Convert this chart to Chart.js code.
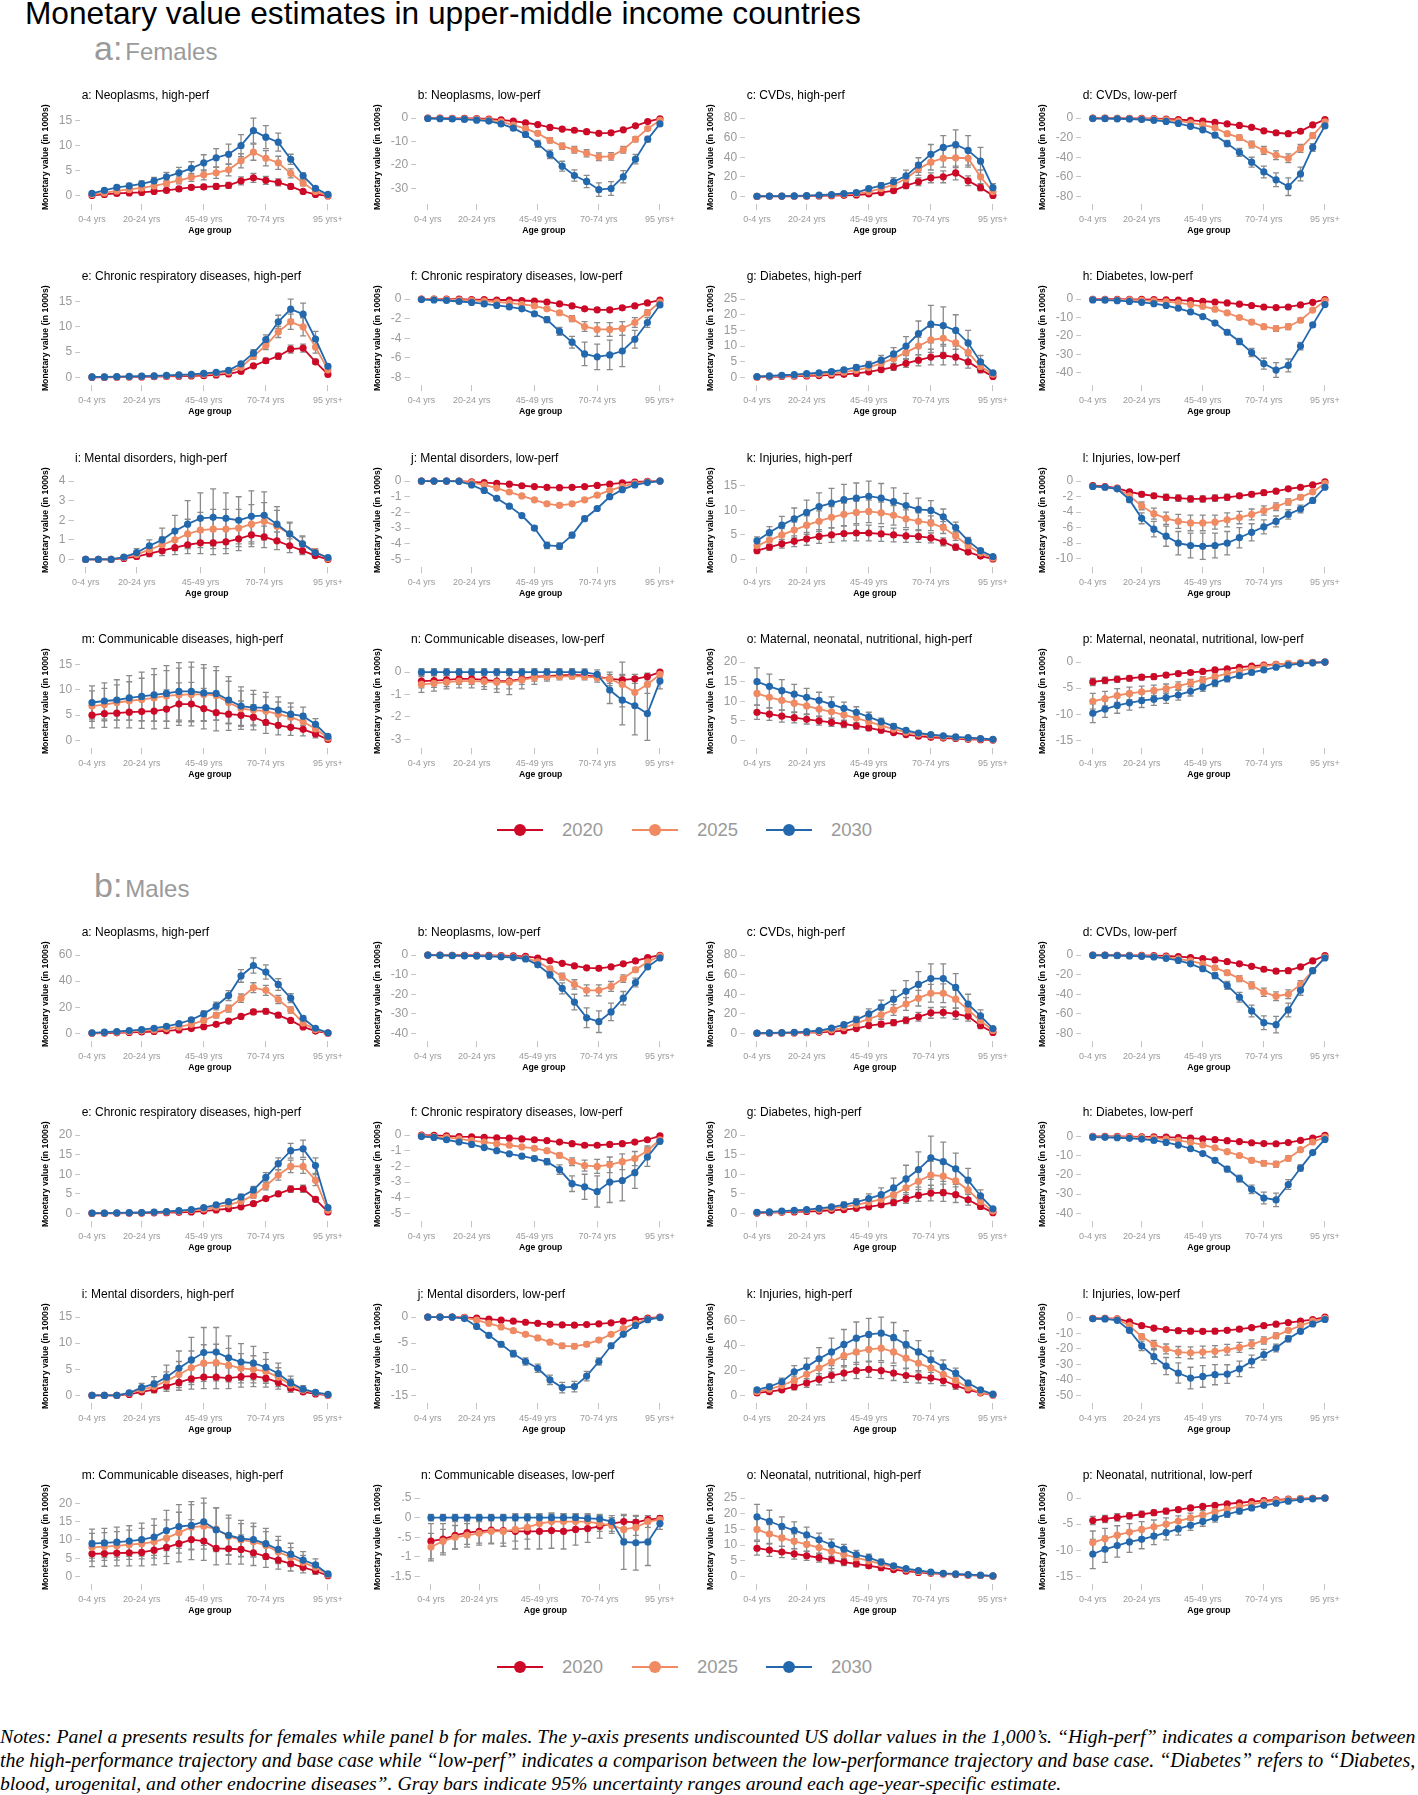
<!DOCTYPE html>
<html>
<head>
<meta charset="utf-8">
<script src="https://cdn.jsdelivr.net/npm/chart.js@4.4.1/dist/chart.umd.min.js"></script>
<style>
  html, body { margin: 0; padding: 0; background: #fff; }
  body { width: 1418px; height: 1795px; position: relative; overflow: hidden; font-family: 'Liberation Sans', Arial, sans-serif; }
  .abs { position: absolute; white-space: nowrap; }
  .ptitle { font-size: 12px; line-height: 14px; color: #000; }
  .section { color: #9a9a9a; display: flex; align-items: baseline; line-height: 1; }
  .legend-line { position: absolute; height: 2px; width: 46px; }
  .legend-dot { position: absolute; width: 12px; height: 12px; border-radius: 50%; }
  .legend-text { position: absolute; font-size: 18.5px; line-height: 20px; color: #9a9a9a; }
  .note { font-family: 'Liberation Serif', 'Times New Roman', serif; font-style: italic; font-size: 20px; line-height: 24px; color: #000; left: 0; }
</style>
</head>
<body>
<div id="title" class="abs" style="left:25px;top:-2px;font-size:32px;line-height:1;color:#000;">Monetary value estimates in upper-middle income countries</div>
<div class="abs section" style="left:94px;top:31px;"><span style="font-size:34px;">a:</span><span style="font-size:24px;margin-left:3px;">Females</span></div>
<div class="abs section" style="left:94px;top:868px;"><span style="font-size:34px;">b:</span><span style="font-size:24px;margin-left:3px;">Males</span></div>
<script>
const ageGroups = ['0-4 yrs','5-9 yrs','10-14 yrs','15-19 yrs','20-24 yrs','25-29 yrs','30-34 yrs','35-39 yrs','40-44 yrs','45-49 yrs',
  '50-54 yrs','55-59 yrs','60-64 yrs','65-69 yrs','70-74 yrs','75-79 yrs','80-84 yrs','85-89 yrs','90-94 yrs','95 yrs+'];
const shownAgeTicks = [0, 4, 9, 14, 19];
const years = ['2020', '2025', '2030'];
const colors = ['#cc0a28', '#ef8a62', '#2368ad'];

const femaleTitles = ['a: Neoplasms, high-perf','b: Neoplasms, low-perf','c: CVDs, high-perf','d: CVDs, low-perf',
  'e: Chronic respiratory diseases, high-perf','f: Chronic respiratory diseases, low-perf','g: Diabetes, high-perf','h: Diabetes, low-perf',
  'i: Mental disorders, high-perf','j: Mental disorders, low-perf','k: Injuries, high-perf','l: Injuries, low-perf',
  'm: Communicable diseases, high-perf','n: Communicable diseases, low-perf','o: Maternal, neonatal, nutritional, high-perf','p: Maternal, neonatal, nutritional, low-perf'];
const maleTitles = ['a: Neoplasms, high-perf','b: Neoplasms, low-perf','c: CVDs, high-perf','d: CVDs, low-perf',
  'e: Chronic respiratory diseases, high-perf','f: Chronic respiratory diseases, low-perf','g: Diabetes, high-perf','h: Diabetes, low-perf',
  'i: Mental disorders, high-perf','j: Mental disorders, low-perf','k: Injuries, high-perf','l: Injuries, low-perf',
  'm: Communicable diseases, high-perf','n: Communicable diseases, low-perf','o: Neonatal, nutritional, high-perf','p: Neonatal, nutritional, low-perf'];

const femaleTicks = [[0,5,10,15],[0,-10,-20,-30],[0,20,40,60,80],[0,-20,-40,-60,-80],
  [0,5,10,15],[0,-2,-4,-6,-8],[0,5,10,15,20,25],[0,-10,-20,-30,-40],
  [0,1,2,3,4],[0,-1,-2,-3,-4,-5],[0,5,10,15],[0,-2,-4,-6,-8,-10],
  [0,5,10,15],[0,-1,-2,-3],[0,5,10,15,20],[0,-5,-10,-15]];
const maleTicks = [[0,20,40,60],[0,-10,-20,-30,-40],[0,20,40,60,80],[0,-20,-40,-60,-80],
  [0,5,10,15,20],[0,-1,-2,-3,-4,-5],[0,5,10,15,20],[0,-10,-20,-30,-40],
  [0,5,10,15],[0,-5,-10,-15],[0,20,40,60],[0,-10,-20,-30,-40,-50],
  [0,5,10,15,20],[0.5,0,-0.5,-1,-1.5],[0,5,10,15,20,25],[0,-5,-10,-15]];

// ---- Females ----
const fa20 = [0.1,0.3,0.5,0.6,0.7,0.9,1.1,1.4,1.7,1.8,1.9,2.1,3.0,3.6,3.1,2.7,1.9,0.9,0.3,0.0];
const fa25 = [0.3,0.6,1.0,1.3,1.6,2.0,2.5,3.1,3.7,4.2,4.6,5.2,7.0,8.7,7.5,6.6,4.5,2.6,0.9,0.1];
const fa30 = [0.5,1.1,1.7,2.0,2.4,3.0,3.8,4.6,5.5,6.6,7.6,8.3,10.0,13.0,11.7,10.7,7.3,4.0,1.5,0.3];
const fa20e = [0.1,0.1,0.2,0.2,0.2,0.3,0.3,0.4,0.4,0.5,0.5,0.6,0.8,0.9,0.8,0.7,0.5,0.3,0.1,0.1];
const fa25e = [0.1,0.2,0.3,0.3,0.4,0.5,0.6,0.7,0.8,1.0,1.1,1.2,1.4,1.6,1.5,1.3,0.9,0.6,0.3,0.1];
const fa30e = [0.2,0.3,0.4,0.5,0.6,0.7,0.9,1.1,1.3,1.6,1.8,2.0,2.2,2.5,2.3,1.8,1.0,0.6,0.3,0.1];

const fb20 = [0,0,-0.1,-0.1,-0.2,-0.4,-0.8,-1.3,-2.0,-2.8,-4.0,-4.7,-5.2,-5.8,-6.5,-6.3,-5.0,-3.3,-1.5,-0.3];
const fb25 = [0,-0.1,-0.2,-0.3,-0.5,-0.8,-1.5,-3.0,-4.5,-6.5,-9.5,-12.0,-13.5,-15.0,-16.5,-16.3,-13.5,-9.0,-4.5,-1.0];
const fb30 = [-0.2,-0.3,-0.4,-0.6,-0.9,-1.3,-2.5,-4.3,-7.0,-11.0,-15.5,-20.5,-24.5,-27.0,-30.5,-30.0,-25.0,-17.5,-9.0,-2.5];
const fb20e = [0,0,0,0,0.1,0.1,0.2,0.3,0.4,0.5,0.6,0.7,0.7,0.8,0.8,0.8,0.7,0.5,0.3,0.1];
const fb25e = [0,0,0.1,0.1,0.1,0.2,0.3,0.5,0.7,0.9,1.1,1.3,1.4,1.5,1.6,1.6,1.4,1.1,0.7,0.2];
const fb30e = [0.1,0.1,0.1,0.2,0.2,0.3,0.5,0.8,1.1,1.5,1.8,2.1,2.4,2.6,2.9,2.9,2.6,2.0,1.2,0.4];

const fc20 = [0,0.1,0.1,0.2,0.3,0.5,0.8,1.2,1.5,2.5,4.0,6.0,11.0,15.0,19.0,20.0,24.0,16.0,9.0,1.0];
const fc25 = [0.1,0.2,0.3,0.4,0.6,1.0,1.5,2.2,3.0,5.0,8.0,12.0,18.0,28.0,35.0,39.0,39.5,39.0,20.0,5.0];
const fc30 = [0.2,0.3,0.4,0.5,0.8,1.3,2.0,3.0,4.0,8.0,11.0,15.0,21.0,32.0,43.0,50.0,53.0,47.0,36.0,9.0];
const fc20e = [0,0,0,0.1,0.1,0.2,0.3,0.4,0.6,0.9,1.3,2,3,4,5,6,7,5,3,0.5];
const fc25e = [0,0.1,0.1,0.2,0.2,0.4,0.6,0.8,1.1,1.7,2.6,3.5,5,6.5,8,9,10,9,7,2];
const fc30e = [0.1,0.1,0.2,0.2,0.3,0.5,0.7,1,1.4,2.3,3.2,4.3,5.8,7.5,10,12,15,15,14,4];

const fd20 = [-0.1,-0.1,-0.2,-0.3,-0.4,-0.6,-1.0,-1.5,-2.3,-3.2,-4.5,-6.0,-7.5,-9.5,-13.0,-15.0,-16.0,-13.5,-7.0,-1.5];
const fd25 = [-0.2,-0.3,-0.4,-0.6,-0.8,-1.2,-1.8,-3.0,-5.0,-7.0,-10.0,-16.0,-20.0,-27.0,-33.0,-38.0,-41.0,-31.0,-18.0,-4.0];
const fd30 = [-0.5,-0.6,-0.8,-1.0,-1.5,-2.3,-3.5,-5.5,-8.5,-12.0,-17.5,-26.0,-35.0,-45.0,-55.0,-63.0,-70.0,-57.0,-30.0,-8.0];
const fd20e = [0,0,0,0.1,0.1,0.1,0.2,0.3,0.4,0.5,0.7,0.9,1.1,1.4,1.8,2,2.2,2,1.2,0.3];
const fd25e = [0.1,0.1,0.1,0.1,0.2,0.2,0.3,0.5,0.8,1.1,1.5,2.2,2.8,3.5,4,4.5,4.5,4,2.8,0.8];
const fd30e = [0.1,0.1,0.2,0.2,0.3,0.4,0.6,0.9,1.3,1.8,2.4,3.2,4,5,6,7,9,7,4,1.5];

const fe20 = [0,0,0.05,0.1,0.1,0.15,0.2,0.25,0.3,0.35,0.5,0.7,1.2,2.3,3.3,4.2,5.6,5.8,3.1,0.6];
const fe25 = [0.1,0.1,0.1,0.15,0.2,0.25,0.3,0.4,0.5,0.6,0.8,1.1,2.0,4.2,6.3,9.0,11.0,10.0,6.0,1.5];
const fe30 = [0.1,0.1,0.15,0.2,0.25,0.3,0.4,0.5,0.6,0.8,1.0,1.4,2.7,4.8,7.5,11.0,13.5,12.5,7.6,2.2];
const fe20e = [0,0,0,0,0,0,0,0.1,0.1,0.1,0.1,0.1,0.2,0.3,0.5,0.6,0.8,0.8,0.5,0.1];
const fe25e = [0,0,0,0,0,0.1,0.1,0.1,0.1,0.1,0.2,0.2,0.3,0.6,0.8,1.1,1.5,1.8,1.2,0.3];
const fe30e = [0,0,0,0,0.1,0.1,0.1,0.1,0.1,0.2,0.2,0.3,0.4,0.7,0.9,1.3,2.0,2.2,1.5,0.4];

const ff20 = [0,0,0,0,-0.05,-0.05,-0.1,-0.1,-0.15,-0.2,-0.3,-0.5,-0.7,-1.0,-1.1,-1.1,-0.9,-0.7,-0.4,-0.1];
const ff25 = [0,0,-0.05,-0.1,-0.15,-0.2,-0.3,-0.4,-0.55,-0.7,-1.0,-1.4,-2.0,-2.8,-3.1,-3.1,-3.0,-2.4,-1.4,-0.3];
const ff30 = [-0.05,-0.1,-0.15,-0.25,-0.35,-0.5,-0.65,-0.8,-1.0,-1.5,-2.1,-3.3,-4.4,-5.6,-5.9,-5.7,-5.3,-4.1,-2.4,-0.6];
const ff20e = [0,0,0,0,0,0,0,0,0,0.05,0.05,0.1,0.1,0.15,0.2,0.2,0.2,0.15,0.1,0.05];
const ff25e = [0,0,0,0,0,0,0.05,0.05,0.1,0.1,0.15,0.2,0.3,0.5,0.7,0.7,0.7,0.5,0.3,0.1];
const ff30e = [0,0,0,0,0.05,0.05,0.1,0.1,0.15,0.2,0.3,0.4,0.6,1.2,1.3,1.5,1.6,0.9,0.5,0.15];

const fg20 = [0.1,0.2,0.3,0.4,0.5,0.6,0.8,1.0,1.3,1.8,2.5,3.3,4.5,5.5,6.5,7.0,6.5,5.0,2.5,0.3];
const fg25 = [0.2,0.3,0.5,0.6,0.8,1.0,1.3,1.7,2.3,3.2,4.5,6.0,8.0,10.0,12.0,12.5,11.0,8.0,3.5,1.0];
const fg30 = [0.3,0.5,0.7,0.9,1.2,1.5,1.9,2.4,3.2,4.0,5.5,7.5,10.0,14.0,17.0,16.5,15.0,11.0,5.0,1.5];
const fg20e = [0,0.1,0.1,0.1,0.1,0.2,0.2,0.3,0.4,0.5,0.7,1,1.3,1.8,2.5,3,2.5,2,1,0.2];
const fg25e = [0.1,0.1,0.1,0.2,0.2,0.3,0.4,0.5,0.6,0.8,1.1,1.5,2,2.8,4,4.5,4,3,1.5,0.3];
const fg30e = [0.1,0.1,0.2,0.2,0.3,0.4,0.5,0.6,0.8,1.1,1.5,2,3,4,6,6,5,4,2,0.5];

const fh20 = [-0.1,-0.1,-0.1,-0.2,-0.2,-0.3,-0.4,-0.6,-0.9,-1.2,-1.6,-2.1,-2.8,-3.5,-4.3,-4.6,-4.3,-3.2,-1.8,-0.3];
const fh25 = [-0.2,-0.3,-0.4,-0.5,-0.7,-1.0,-1.4,-2.0,-3.0,-4.0,-5.5,-7.5,-10.0,-12.5,-15.0,-16.0,-15.0,-11.5,-6.0,-1.0];
const fh30 = [-0.5,-0.6,-0.9,-1.3,-1.8,-2.5,-3.5,-5.0,-7.0,-9.5,-13.0,-18.0,-23.0,-29.0,-35.0,-38.5,-36.0,-25.5,-14.0,-3.0];
const fh20e = [0,0,0,0,0,0.1,0.1,0.1,0.1,0.2,0.2,0.3,0.3,0.4,0.5,0.6,0.6,0.5,0.3,0.1];
const fh25e = [0,0,0.1,0.1,0.1,0.1,0.2,0.2,0.3,0.4,0.5,0.7,0.9,1.1,1.3,1.5,1.5,1.2,0.7,0.2];
const fh30e = [0.1,0.1,0.1,0.1,0.2,0.2,0.3,0.4,0.6,0.8,1,1.3,1.7,2.2,3,4,3.5,2,1.2,0.4];

const fi20 = [0,0,0,0.05,0.15,0.3,0.45,0.6,0.75,0.85,0.85,0.9,1.05,1.25,1.15,0.95,0.7,0.45,0.2,0];
const fi25 = [0,0,0,0.1,0.25,0.5,0.75,1.0,1.3,1.5,1.55,1.55,1.6,1.8,1.95,1.7,1.3,0.8,0.4,0.05];
const fi30 = [0,0,0,0.12,0.35,0.7,1.0,1.45,1.8,2.1,2.15,2.1,2.0,2.2,2.25,1.8,1.3,0.8,0.35,0.1];
const fi20e = [0,0,0,0.05,0.1,0.15,0.25,0.35,0.45,0.55,0.6,0.6,0.6,0.6,0.55,0.45,0.35,0.2,0.1,0];
const fi25e = [0,0,0,0.05,0.15,0.25,0.4,0.55,0.75,0.9,1.0,1.0,0.95,1.0,0.95,0.8,0.55,0.35,0.15,0.05];
const fi30e = [0,0,0,0.1,0.2,0.3,0.6,0.8,1.2,1.3,1.45,1.3,1.2,1.3,1.2,0.9,0.6,0.4,0.2,0.05];

const fj20 = [0,0,0,0,-0.05,-0.1,-0.15,-0.2,-0.3,-0.35,-0.4,-0.42,-0.4,-0.35,-0.28,-0.2,-0.12,-0.06,-0.02,0];
const fj25 = [0,0,0,0,-0.1,-0.25,-0.45,-0.7,-0.95,-1.2,-1.45,-1.55,-1.45,-1.2,-0.9,-0.6,-0.35,-0.15,-0.05,0];
const fj30 = [0,0,0,-0.02,-0.25,-0.6,-1.1,-1.6,-2.2,-3.0,-4.1,-4.15,-3.45,-2.4,-1.75,-1.0,-0.55,-0.25,-0.1,0];
const fj20e = [0,0,0,0,0,0,0,0.02,0.03,0.03,0.04,0.04,0.04,0.03,0.03,0.02,0.02,0,0,0];
const fj25e = [0,0,0,0,0.02,0.03,0.05,0.06,0.08,0.1,0.1,0.12,0.1,0.1,0.08,0.06,0.04,0.02,0,0];
const fj30e = [0,0,0,0,0.03,0.05,0.08,0.1,0.12,0.15,0.2,0.2,0.18,0.15,0.1,0.08,0.05,0.03,0.02,0];

const fk20 = [1.8,2.5,3.2,3.7,4.2,4.7,5.0,5.3,5.4,5.4,5.2,5.0,4.8,4.7,4.4,3.6,2.5,1.5,0.7,0.1];
const fk25 = [2.8,3.9,5.0,6.0,7.0,7.8,8.6,9.2,9.6,9.8,9.5,9.0,8.3,7.8,7.4,6.5,4.8,2.8,1.3,0.3];
const fk30 = [3.8,5.5,7.0,8.3,9.6,10.8,11.5,12.2,12.5,12.9,12.5,11.8,11.0,10.2,10.0,8.7,6.5,3.8,1.8,0.6];
const fk20e = [0.4,0.6,0.9,1.1,1.3,1.4,1.5,1.5,1.6,1.6,1.5,1.4,1.3,1.2,1.0,0.8,0.6,0.4,0.2,0.1];
const fk25e = [0.6,0.9,1.3,1.6,1.9,2.1,2.2,2.3,2.3,2.3,2.2,2.0,1.8,1.7,1.5,1.2,0.9,0.5,0.3,0.1];
const fk30e = [0.8,1.2,1.8,2.2,2.5,2.8,3.0,3.1,3.1,3.1,3.0,2.8,2.5,2.3,2.0,1.6,1.1,0.7,0.4,0.2];

const fl20 = [-0.6,-0.7,-0.9,-1.4,-1.7,-1.9,-2.1,-2.2,-2.3,-2.3,-2.2,-2.1,-1.9,-1.7,-1.5,-1.3,-1.0,-0.8,-0.5,-0.1];
const fl25 = [-0.7,-0.8,-1.0,-1.9,-3.2,-4.2,-4.8,-5.2,-5.4,-5.4,-5.3,-5.0,-4.7,-4.3,-3.8,-3.3,-2.7,-2.1,-1.4,-0.3];
const fl30 = [-0.7,-0.8,-1.0,-2.4,-4.8,-6.2,-7.1,-8.0,-8.3,-8.4,-8.3,-8.0,-7.3,-6.6,-5.9,-5.2,-4.3,-3.6,-2.5,-0.8];
const fl20e = [0.1,0.1,0.1,0.2,0.3,0.3,0.4,0.4,0.4,0.4,0.4,0.4,0.3,0.3,0.3,0.2,0.2,0.1,0.1,0];
const fl25e = [0.1,0.1,0.2,0.3,0.5,0.7,0.8,0.9,1.0,1.0,0.9,0.9,0.8,0.7,0.6,0.5,0.4,0.3,0.2,0.1];
const fl30e = [0.1,0.1,0.2,0.3,0.7,1.0,1.3,1.5,1.6,1.7,1.6,1.5,1.3,1.1,0.9,0.7,0.6,0.5,0.3,0.1];

const fm20 = [5.0,5.3,5.4,5.6,5.7,5.8,6.2,7.2,7.2,6.3,5.5,5.2,5.0,4.6,3.6,3.0,2.6,2.2,1.3,0.2];
const fm25 = [6.8,7.1,7.5,7.8,8.1,8.4,8.8,9.0,9.1,9.1,8.9,7.5,6.3,6.0,5.8,5.2,4.6,3.7,2.3,0.5];
const fm30 = [7.5,7.8,8.0,8.4,8.7,9.0,9.3,9.7,9.7,9.4,9.3,8.0,6.8,6.5,6.5,6.0,5.2,4.8,3.2,0.8];
const fm20e = [2.5,2.7,2.9,3.1,3.3,3.5,3.8,4.2,4.3,4.0,3.6,3.2,2.8,2.5,2.2,1.9,1.6,1.3,0.8,0.2];
const fm25e = [3.0,3.2,3.5,3.8,4.2,4.6,5.0,5.3,5.4,5.2,4.9,4.2,3.5,3.1,2.8,2.4,2.0,1.6,1.0,0.3];
const fm30e = [3.3,3.6,4.0,4.4,4.8,5.2,5.5,5.7,5.8,5.6,5.3,4.6,3.8,3.4,3.0,2.6,2.2,1.8,1.1,0.3];

const fn20 = [-0.4,-0.38,-0.35,-0.3,-0.3,-0.35,-0.4,-0.4,-0.3,-0.2,-0.18,-0.15,-0.12,-0.15,-0.2,-0.3,-0.35,-0.3,-0.2,0];
const fn25 = [-0.55,-0.5,-0.45,-0.4,-0.4,-0.42,-0.45,-0.45,-0.35,-0.25,-0.2,-0.2,-0.18,-0.2,-0.25,-0.3,-0.55,-0.9,-0.55,-0.1];
const fn30 = [0,0,0,0,0,0,0,0,0,0,0,0,0,-0.01,-0.1,-0.8,-1.25,-1.5,-1.85,-0.4];
const fn20e = [0.3,0.3,0.3,0.25,0.25,0.3,0.35,0.35,0.25,0.2,0.15,0.12,0.1,0.12,0.15,0.2,0.25,0.2,0.15,0.05];
const fn25e = [0.35,0.35,0.3,0.3,0.3,0.35,0.45,0.55,0.4,0.3,0.2,0.15,0.12,0.15,0.2,0.3,1.0,0.6,0.4,0.15];
const fn30e = [0.15,0.15,0.15,0.15,0.15,0.15,0.15,0.15,0.15,0.15,0.15,0.15,0.15,0.15,0.2,0.6,1.1,1.3,1.2,0.35];

const fo20 = [7.2,6.7,6.2,5.8,5.4,5.0,4.6,4.2,3.7,3.2,2.6,2.0,1.5,1.1,0.8,0.6,0.5,0.3,0.2,0.1];
const fo25 = [12.0,11.0,10.2,9.5,8.8,8.0,7.3,6.5,5.7,4.8,3.8,2.9,2.1,1.6,1.2,0.9,0.7,0.5,0.4,0.2];
const fo30 = [15.0,13.8,12.7,11.8,11.0,10.2,9.2,8.2,7.2,6.0,4.8,3.6,2.6,1.9,1.5,1.2,0.9,0.7,0.5,0.3];
const fo20e = [1.8,1.6,1.5,1.3,1.2,1.1,1.0,0.9,0.8,0.7,0.6,0.4,0.3,0.25,0.2,0.15,0.1,0.1,0.05,0.05];
const fo25e = [3.0,2.7,2.4,2.2,2.0,1.8,1.6,1.4,1.2,1.0,0.8,0.6,0.45,0.35,0.25,0.2,0.15,0.1,0.1,0.05];
const fo30e = [3.5,3.1,2.8,2.5,2.3,2.1,1.9,1.6,1.4,1.2,0.9,0.7,0.5,0.4,0.3,0.25,0.2,0.15,0.1,0.1];

const fp20 = [-3.8,-3.5,-3.3,-3.1,-2.9,-2.8,-2.5,-2.2,-2.0,-1.8,-1.5,-1.3,-1.0,-0.8,-0.6,-0.45,-0.3,-0.2,-0.1,0];
const fp25 = [-7.5,-7.0,-6.4,-6.0,-5.7,-5.4,-5.1,-4.6,-4.0,-3.4,-2.8,-2.2,-1.7,-1.2,-0.8,-0.5,-0.25,-0.1,-0.05,0];
const fp30 = [-9.8,-9.0,-8.3,-7.8,-7.4,-7.1,-6.8,-6.3,-5.6,-4.8,-4.0,-3.2,-2.6,-2.0,-1.5,-1.0,-0.6,-0.3,-0.15,0];
const fp20e = [0.7,0.6,0.6,0.5,0.5,0.5,0.4,0.4,0.35,0.3,0.3,0.25,0.2,0.15,0.1,0.1,0.05,0.05,0,0];
const fp25e = [1.5,1.4,1.3,1.2,1.1,1.0,0.9,0.8,0.7,0.6,0.5,0.45,0.35,0.3,0.2,0.15,0.1,0.05,0,0];
const fp30e = [1.8,1.6,1.5,1.4,1.3,1.2,1.1,1.0,0.9,0.8,0.7,0.6,0.5,0.4,0.3,0.2,0.15,0.1,0.05,0];

// ---- Males ----
const ma20 = [0.1,0.3,0.5,0.8,1.1,1.5,2.0,2.7,3.7,5.2,7.0,9.5,13.0,16.5,17.0,14.0,10.0,5.0,1.8,0.2];
const ma25 = [0.3,0.6,1.0,1.5,2.0,2.7,3.7,5.0,7.0,10.0,14.0,19.0,27.0,35.0,33.0,26.0,18.0,8.0,3.0,0.3];
const ma30 = [0.5,1.0,1.5,2.2,3.0,4.0,5.5,7.5,10.5,15.0,21.0,29.0,44.0,52.0,47.0,37.5,27.0,11.6,4.0,0.5];
const ma20e = [0,0.1,0.1,0.2,0.2,0.3,0.4,0.5,0.6,0.8,1,1.3,1.6,1.9,2,1.8,1.4,0.8,0.3,0.05];
const ma25e = [0.1,0.1,0.2,0.3,0.4,0.5,0.7,0.9,1.2,1.6,2,2.6,3.2,3.8,3.8,3.2,2.4,1.2,0.5,0.1];
const ma30e = [0.1,0.2,0.3,0.4,0.5,0.7,0.9,1.2,1.6,2.2,3,3.8,4.8,5.8,5.5,4.5,3.4,1.8,0.7,0.1];

const mb20 = [0,0,-0.1,-0.1,-0.2,-0.2,-0.3,-0.4,-0.7,-1.5,-2.8,-4.2,-5.5,-6.5,-6.8,-6.0,-4.5,-3.0,-1.3,-0.1];
const mb25 = [0,-0.1,-0.2,-0.3,-0.4,-0.5,-0.6,-0.9,-1.4,-3.5,-7.0,-11.0,-15.0,-18.0,-18.0,-16.0,-12.0,-7.5,-3.5,-0.5];
const mb30 = [0,-0.2,-0.3,-0.4,-0.5,-0.7,-0.9,-1.3,-2.0,-5.0,-10.0,-17.0,-24.0,-32.0,-34.0,-29.0,-22.0,-14.0,-6.0,-1.5];
const mb20e = [0,0,0,0,0,0,0.1,0.1,0.2,0.3,0.5,0.6,0.8,0.9,1.0,0.9,0.7,0.5,0.2,0.05];
const mb25e = [0,0,0,0.1,0.1,0.1,0.2,0.2,0.3,0.7,1.2,1.8,2.4,2.8,2.8,2.5,1.9,1.2,0.6,0.1];
const mb30e = [0,0.1,0.1,0.1,0.1,0.2,0.2,0.3,0.4,1.0,1.8,2.8,4.0,5.0,5.5,4.5,3.4,2.2,1.0,0.3];

const mc20 = [0.1,0.2,0.3,0.5,0.8,1.2,1.8,2.8,5.0,8.0,9.5,11.0,13.5,17.0,21.0,21.5,20.0,17.5,8.0,1.0];
const mc25 = [0.2,0.3,0.5,0.8,1.2,2.0,3.5,6.0,10.0,15.0,19.0,24.0,30.0,36.0,41.0,41.0,35.0,24.0,13.0,3.0];
const mc30 = [0.3,0.5,0.8,1.2,1.8,3.0,5.5,9.0,14.0,20.0,27.0,35.0,43.0,50.0,56.0,56.0,47.0,30.0,18.0,5.0];
const mc20e = [0,0,0.1,0.1,0.2,0.3,0.5,0.8,1.3,2.0,2.5,3.0,3.5,4.5,5.5,5.5,5.5,5,3,0.5];
const mc25e = [0.1,0.1,0.1,0.2,0.3,0.5,0.9,1.5,2.5,3.8,4.5,5.5,6.5,8,9,9.5,9,7,4.5,1];
const mc30e = [0.1,0.1,0.2,0.3,0.4,0.7,1.2,2.0,3.5,5.0,7.0,9.0,11.0,13.0,15.0,15.0,14.0,10.0,6.0,1.5];

const md20 = [-0.1,-0.1,-0.2,-0.3,-0.4,-0.6,-1.0,-1.6,-2.5,-3.6,-5.0,-6.8,-9.0,-11.5,-14.5,-16.5,-16.0,-12.0,-6.0,-0.5];
const md25 = [-0.2,-0.3,-0.4,-0.6,-0.9,-1.3,-2.2,-3.8,-6.0,-9.0,-13.0,-18.0,-24.0,-31.0,-38.0,-42.0,-40.0,-30.0,-16.0,-2.0];
const md30 = [-0.3,-0.4,-0.6,-0.9,-1.3,-2.0,-3.3,-5.5,-9.0,-14.0,-21.0,-31.0,-43.0,-57.0,-69.0,-71.0,-56.0,-36.0,-16.0,-3.0];
const md20e = [0,0,0,0,0.1,0.1,0.2,0.3,0.4,0.6,0.8,1,1.3,1.6,2,2.2,2.2,1.8,1,0.2];
const md25e = [0,0.1,0.1,0.1,0.2,0.3,0.4,0.6,0.9,1.3,1.8,2.4,3,3.6,4.2,4.5,4.5,3.8,2.2,0.4];
const md30e = [0.1,0.1,0.1,0.2,0.2,0.3,0.5,0.8,1.3,2,3,4,5,6,7,8.5,7,5,2.5,0.6];

const me20 = [0,0,0.05,0.1,0.1,0.15,0.2,0.3,0.4,0.6,0.9,1.2,1.7,2.5,3.8,5.0,6.2,6.3,3.6,0.4];
const me25 = [0.05,0.1,0.1,0.15,0.2,0.3,0.4,0.55,0.8,1.1,1.6,2.2,3.1,4.6,7.0,9.8,12.0,12.0,8.5,0.8];
const me30 = [0.1,0.1,0.15,0.2,0.25,0.35,0.5,0.7,1.0,1.5,2.2,3.0,4.2,6.0,9.2,12.7,16.0,16.5,12.2,1.5];
const me20e = [0,0,0,0,0,0,0,0.05,0.1,0.1,0.15,0.2,0.3,0.4,0.5,0.6,0.8,0.9,0.6,0.1];
const me25e = [0,0,0,0,0,0.05,0.1,0.1,0.15,0.2,0.3,0.4,0.5,0.7,1.0,1.3,1.6,1.8,1.4,0.2];
const me30e = [0,0,0,0,0.05,0.05,0.1,0.15,0.2,0.3,0.4,0.5,0.7,0.9,1.2,1.5,1.9,2.2,2.0,0.3];

const mf20 = [0,-0.02,-0.05,-0.1,-0.12,-0.15,-0.18,-0.2,-0.25,-0.3,-0.35,-0.45,-0.55,-0.65,-0.65,-0.6,-0.55,-0.45,-0.3,-0.05];
const mf25 = [-0.05,-0.1,-0.15,-0.25,-0.35,-0.45,-0.55,-0.65,-0.75,-0.85,-1.0,-1.3,-1.7,-1.95,-2.0,-1.9,-1.7,-1.5,-1.0,-0.3];
const mf30 = [-0.1,-0.15,-0.3,-0.45,-0.6,-0.8,-1.0,-1.2,-1.35,-1.5,-1.7,-2.2,-3.1,-3.3,-3.6,-3.0,-2.9,-2.4,-1.4,-0.4];
const mf20e = [0,0,0,0,0,0,0.02,0.02,0.03,0.04,0.05,0.06,0.08,0.1,0.1,0.1,0.1,0.08,0.05,0.02];
const mf25e = [0,0,0,0,0.02,0.03,0.05,0.06,0.08,0.1,0.12,0.15,0.25,0.35,0.45,0.5,0.5,0.45,0.3,0.1];
const mf30e = [0,0,0.02,0.03,0.04,0.05,0.08,0.1,0.12,0.15,0.2,0.3,0.5,0.8,1.0,1.3,1.3,1.0,0.6,0.15];

const mg20 = [0.1,0.2,0.3,0.4,0.5,0.6,0.8,1.0,1.3,1.7,2.2,2.8,3.7,4.6,5.2,5.3,4.8,3.5,1.8,0.2];
const mg25 = [0.2,0.3,0.4,0.6,0.8,1.0,1.3,1.7,2.2,2.9,3.6,4.8,6.5,8.2,9.8,9.5,8.3,6.0,3.0,0.6];
const mg30 = [0.3,0.4,0.6,0.8,1.0,1.3,1.7,2.2,2.9,3.8,4.8,6.5,8.8,11.2,14.2,13.2,11.4,8.5,4.5,1.2];
const mg20e = [0,0,0.1,0.1,0.1,0.2,0.2,0.3,0.4,0.5,0.6,0.8,1.1,1.5,2,2.2,2,1.4,0.7,0.1];
const mg25e = [0.1,0.1,0.1,0.2,0.2,0.3,0.4,0.5,0.7,0.9,1.2,1.6,2.2,2.8,3.5,3.5,3,2.2,1,0.2];
const mg30e = [0.1,0.1,0.2,0.2,0.3,0.4,0.5,0.7,0.9,1.2,1.7,2.5,3.5,4.5,5.5,5,4,3,1.5,0.3];

const mh20 = [-0.1,-0.1,-0.1,-0.2,-0.3,-0.4,-0.5,-0.7,-1.0,-1.4,-1.8,-2.3,-2.8,-3.4,-3.8,-3.9,-3.3,-2.2,-1.0,0.5];
const mh25 = [-0.2,-0.3,-0.4,-0.5,-0.7,-1.0,-1.5,-2.2,-3.2,-4.5,-6.0,-8.0,-10.0,-12.5,-14.0,-14.5,-11.5,-7.0,-3.0,-0.5];
const mh30 = [-0.5,-0.6,-0.8,-1.1,-1.5,-2.2,-3.2,-4.6,-6.5,-9.0,-12.5,-17.0,-22.0,-27.5,-32.0,-33.0,-25.0,-16.5,-8.5,-1.7];
const mh20e = [0,0,0,0,0,0,0.1,0.1,0.1,0.2,0.2,0.3,0.3,0.4,0.5,0.5,0.5,0.3,0.2,0.1];
const mh25e = [0,0,0.1,0.1,0.1,0.1,0.2,0.3,0.4,0.5,0.6,0.8,1.0,1.2,1.4,1.5,1.3,0.8,0.4,0.1];
const mh30e = [0.1,0.1,0.1,0.1,0.2,0.2,0.3,0.4,0.6,0.8,1.1,1.4,1.8,2.2,3.0,3.5,2.5,1.6,0.8,0.2];

const mi20 = [0,0,0,0.2,0.7,1.1,1.8,2.5,3.2,3.5,3.5,3.3,3.6,3.7,3.3,2.5,1.4,0.7,0.3,0.05];
const mi25 = [0,0,0,0.4,1.1,1.7,2.8,4.0,5.3,6.2,6.3,5.8,5.2,5.0,4.6,3.5,2.0,1.0,0.5,0.1];
const mi30 = [0,0,0,0.5,1.5,2.2,3.5,5.2,6.8,8.2,8.3,7.2,6.4,6.2,5.4,4.2,2.4,1.2,0.6,0.2];
const mi20e = [0,0,0,0.1,0.4,0.6,1.0,1.5,2.0,2.2,2.2,2.0,2.0,2.0,1.7,1.3,0.8,0.4,0.15,0.05];
const mi25e = [0,0,0,0.2,0.6,1.0,1.7,2.5,3.2,3.5,3.5,3.2,2.8,2.6,2.3,1.8,1.1,0.5,0.2,0.05];
const mi30e = [0,0,0,0.3,0.8,1.4,2.3,3.3,4.3,4.8,4.7,4.2,3.5,3.2,2.8,2.0,1.3,0.7,0.3,0.1];

const mj20 = [0,0,0,-0.05,-0.2,-0.4,-0.6,-0.8,-1.0,-1.2,-1.4,-1.5,-1.55,-1.45,-1.3,-1.1,-0.8,-0.5,-0.2,0];
const mj25 = [0,0,0,-0.1,-0.6,-1.2,-1.9,-2.6,-3.3,-4.0,-4.8,-5.5,-5.6,-5.2,-4.4,-3.3,-2.2,-1.2,-0.4,-0.05];
const mj30 = [0,0,0,-0.3,-1.8,-3.5,-5.2,-7.0,-8.5,-9.8,-12.0,-13.5,-13.3,-11.3,-8.5,-5.5,-3.3,-1.6,-0.5,-0.1];
const mj20e = [0,0,0,0,0.03,0.05,0.07,0.09,0.1,0.12,0.13,0.14,0.14,0.13,0.12,0.1,0.08,0.05,0.02,0];
const mj25e = [0,0,0,0.02,0.08,0.15,0.2,0.25,0.3,0.35,0.4,0.45,0.45,0.4,0.35,0.3,0.2,0.1,0.05,0];
const mj30e = [0,0,0,0.05,0.2,0.35,0.5,0.6,0.7,0.8,0.9,1.0,1.0,0.9,0.7,0.5,0.3,0.15,0.05,0];

const mk20 = [2.0,3.0,4.5,7.0,10.0,13.0,16.0,18.0,20.0,21.0,20.0,18.0,16.0,15.0,14.0,12.0,8.0,4.5,2.0,0.3];
const mk25 = [3.0,5.0,8.0,12.0,17.0,22.0,27.0,32.0,35.0,37.0,38.0,35.0,30.0,26.0,22.0,17.0,12.0,6.0,2.5,0.5];
const mk30 = [4.5,7.0,11.0,19.0,23.0,29.5,35.0,41.0,46.0,49.0,50.0,46.6,41.0,35.0,28.7,23.0,18.0,10.0,4.5,1.0];
const mk20e = [0.5,1.0,1.5,2.5,3.5,4.5,5.5,6.0,6.5,6.5,6.5,6.0,5.5,5.0,4.5,4.0,3.0,1.5,0.7,0.1];
const mk25e = [0.8,1.5,2.3,3.5,5.0,6.5,8.0,9.0,10.0,10.0,10.0,9.0,8.0,7.0,6.0,4.5,3.2,1.6,0.7,0.2];
const mk30e = [1.0,2.0,3.0,5.0,7.0,9.0,11.0,12.0,13.0,13.0,13.0,12.0,11.0,9.0,7.0,5.5,4.0,2.0,1.0,0.3];

const ml20 = [-0.2,-0.3,-0.5,-2.5,-5.0,-6.5,-7.5,-8.2,-8.5,-8.6,-8.5,-8.0,-7.2,-6.2,-5.0,-4.0,-3.0,-2.0,-1.0,0.5];
const ml25 = [-0.4,-0.5,-0.7,-5.0,-12.0,-17.0,-20.0,-22.0,-22.5,-22.0,-21.5,-20.5,-19.0,-17.0,-14.5,-11.5,-8.0,-5.0,-2.0,-0.3];
const ml30 = [-0.5,-0.6,-1.5,-8.0,-18.0,-25.0,-31.0,-35.5,-38.8,-37.7,-36.6,-36.2,-32.8,-28.0,-23.7,-19.4,-13.4,-8.6,-3.9,-1.0];
const ml20e = [0,0,0.1,0.4,0.8,1.0,1.2,1.3,1.4,1.4,1.4,1.3,1.2,1.0,0.8,0.7,0.5,0.3,0.2,0.1];
const ml25e = [0.1,0.1,0.2,0.8,1.8,2.6,3.2,3.6,3.8,3.8,3.7,3.5,3.2,2.8,2.3,1.8,1.3,0.8,0.3,0.1];
const ml30e = [0.1,0.1,0.3,1.5,3.0,4.5,5.5,6.5,7.0,7.0,6.5,6.0,5.0,4.0,3.5,2.5,2.0,1.2,0.6,0.2];

const mm20 = [6.2,6.3,6.4,6.5,6.6,7.2,8.0,9.0,10.1,9.7,7.7,7.6,7.4,6.5,5.5,4.5,3.5,2.5,1.5,0.2];
const mm25 = [8.0,8.2,8.4,8.7,9.0,9.5,10.5,12.0,13.5,13.8,13.0,11.0,10.0,9.5,8.5,6.7,5.3,3.8,2.5,0.5];
const mm30 = [9.0,9.2,9.4,9.7,10.1,10.8,12.6,13.7,14.0,15.0,12.8,11.3,10.4,10.1,9.0,7.4,6.1,4.5,3.2,0.7];
const mm20e = [3.5,3.5,3.5,3.6,3.7,4.0,4.5,5.0,5.5,5.3,4.5,4.2,4.0,3.5,3.0,2.5,2.0,1.5,0.9,0.2];
const mm25e = [3.8,3.8,3.9,4.0,4.2,4.5,5.0,5.6,6.2,6.3,5.8,5.0,4.5,4.2,3.8,3.2,2.6,2.0,1.3,0.3];
const mm30e = [4.0,4.0,4.1,4.2,4.5,5.0,5.5,6.0,6.5,6.5,6.0,5.5,5.0,4.5,4.2,3.6,3.0,2.3,1.6,0.4];

const mn20 = [-0.6,-0.55,-0.45,-0.38,-0.35,-0.32,-0.33,-0.35,-0.35,-0.35,-0.33,-0.35,-0.3,-0.28,-0.22,-0.15,-0.1,-0.12,-0.05,-0.02];
const mn25 = [-0.75,-0.6,-0.5,-0.45,-0.4,-0.35,-0.35,-0.3,-0.25,-0.15,-0.1,-0.1,-0.1,-0.1,-0.15,-0.2,-0.3,-0.25,-0.1,-0.05];
const mn30 = [0,0,0,0,0,0,0,0,0,0,0,0,0,-0.02,-0.03,-0.1,-0.62,-0.64,-0.62,-0.15];
const mn20e = [0.45,0.4,0.35,0.3,0.3,0.35,0.4,0.45,0.45,0.45,0.45,0.45,0.4,0.35,0.3,0.2,0.15,0.15,0.1,0.05];
const mn25e = [0.35,0.3,0.3,0.3,0.3,0.3,0.3,0.3,0.3,0.25,0.2,0.2,0.2,0.2,0.2,0.2,0.25,0.2,0.15,0.1];
const mn30e = [0.08,0.08,0.08,0.08,0.08,0.08,0.08,0.08,0.08,0.08,0.08,0.08,0.08,0.08,0.08,0.1,0.7,0.7,0.6,0.15];

const mo20 = [9.0,8.4,7.8,7.2,6.6,6.0,5.3,4.6,4.0,3.4,2.8,2.2,1.7,1.3,1.0,0.8,0.6,0.4,0.3,0.1];
const mo25 = [15.0,13.5,12.3,11.2,10.2,9.2,8.0,7.0,6.0,5.0,4.0,3.0,2.2,1.6,1.2,0.9,0.7,0.5,0.3,0.1];
const mo30 = [19.0,17.6,16.0,14.7,13.3,11.7,10.1,8.7,7.0,6.0,4.6,3.4,2.5,1.9,1.4,1.0,0.8,0.6,0.4,0.2];
const mo20e = [2.2,2.0,1.8,1.7,1.5,1.4,1.2,1.1,0.9,0.8,0.7,0.5,0.4,0.3,0.25,0.2,0.15,0.1,0.1,0.05];
const mo25e = [3.4,3.0,2.7,2.4,2.2,2.0,1.7,1.5,1.3,1.1,0.9,0.7,0.5,0.4,0.3,0.2,0.15,0.1,0.1,0.05];
const mo30e = [4.0,3.5,3.0,2.7,2.4,2.1,1.8,1.5,1.3,1.1,0.9,0.7,0.5,0.4,0.3,0.25,0.2,0.15,0.1,0.1];

const mp20 = [-4.3,-4.0,-3.7,-3.4,-3.1,-2.8,-2.5,-2.2,-1.9,-1.6,-1.4,-1.1,-0.9,-0.7,-0.5,-0.35,-0.2,-0.1,-0.05,0];
const mp25 = [-8.5,-7.8,-7.1,-6.5,-6.0,-5.5,-5.0,-4.4,-3.8,-3.2,-2.6,-2.1,-1.6,-1.2,-0.8,-0.5,-0.3,-0.1,-0.05,0];
const mp30 = [-10.7,-9.8,-9.1,-8.4,-7.9,-7.3,-6.6,-5.9,-5.2,-4.5,-3.8,-3.1,-2.5,-1.9,-1.4,-1.0,-0.6,-0.3,-0.15,0];
const mp20e = [0.8,0.7,0.7,0.6,0.6,0.5,0.5,0.4,0.4,0.35,0.3,0.25,0.2,0.15,0.1,0.1,0.05,0.05,0,0];
const mp25e = [2.2,2.0,1.8,1.6,1.5,1.3,1.2,1.0,0.9,0.8,0.7,0.5,0.4,0.3,0.2,0.15,0.1,0.05,0,0];
const mp30e = [2.8,2.5,2.2,2.0,1.8,1.6,1.4,1.2,1.0,0.9,0.8,0.6,0.5,0.4,0.3,0.2,0.15,0.1,0.05,0];

const femaleSeries = [[fa20,fa25,fa30],[fb20,fb25,fb30],[fc20,fc25,fc30],[fd20,fd25,fd30],[fe20,fe25,fe30],[ff20,ff25,ff30],
  [fg20,fg25,fg30],[fh20,fh25,fh30],[fi20,fi25,fi30],[fj20,fj25,fj30],[fk20,fk25,fk30],[fl20,fl25,fl30],
  [fm20,fm25,fm30],[fn20,fn25,fn30],[fo20,fo25,fo30],[fp20,fp25,fp30]];
const femaleErrors = [[fa20e,fa25e,fa30e],[fb20e,fb25e,fb30e],[fc20e,fc25e,fc30e],[fd20e,fd25e,fd30e],[fe20e,fe25e,fe30e],[ff20e,ff25e,ff30e],
  [fg20e,fg25e,fg30e],[fh20e,fh25e,fh30e],[fi20e,fi25e,fi30e],[fj20e,fj25e,fj30e],[fk20e,fk25e,fk30e],[fl20e,fl25e,fl30e],
  [fm20e,fm25e,fm30e],[fn20e,fn25e,fn30e],[fo20e,fo25e,fo30e],[fp20e,fp25e,fp30e]];
const maleSeries = [[ma20,ma25,ma30],[mb20,mb25,mb30],[mc20,mc25,mc30],[md20,md25,md30],[me20,me25,me30],[mf20,mf25,mf30],
  [mg20,mg25,mg30],[mh20,mh25,mh30],[mi20,mi25,mi30],[mj20,mj25,mj30],[mk20,mk25,mk30],[ml20,ml25,ml30],
  [mm20,mm25,mm30],[mn20,mn25,mn30],[mo20,mo25,mo30],[mp20,mp25,mp30]];
const maleErrors = [[ma20e,ma25e,ma30e],[mb20e,mb25e,mb30e],[mc20e,mc25e,mc30e],[md20e,md25e,md30e],[me20e,me25e,me30e],[mf20e,mf25e,mf30e],
  [mg20e,mg25e,mg30e],[mh20e,mh25e,mh30e],[mi20e,mi25e,mi30e],[mj20e,mj25e,mj30e],[mk20e,mk25e,mk30e],[ml20e,ml25e,ml30e],
  [mm20e,mm25e,mm30e],[mn20e,mn25e,mn30e],[mo20e,mo25e,mo30e],[mp20e,mp25e,mp30e]];

const notesLines = [
  'Notes: Panel a presents results for females while panel b for males. The y-axis presents undiscounted US dollar values in the 1,000\u2019s. \u201cHigh-perf\u201d indicates a comparison between',
  'the high-performance trajectory and base case while \u201clow-perf\u201d indicates a comparison between the low-performance trajectory and base case. \u201cDiabetes\u201d refers to \u201cDiabetes,',
  'blood, urogenital, and other endocrine diseases\u201d. Gray bars indicate 95% uncertainty ranges around each age-year-specific estimate.'
];

// layout
const colLeft = [39, 371, 704, 1036];
const femaleRows = [95, 276, 458, 639];
const maleRows = [932, 1112, 1294, 1475];
const CW = 309, CH = 138;

Chart.defaults.font.family = "'Liberation Sans', Arial, sans-serif";

const errorBars = {
  id: 'errorBars',
  beforeDatasetsDraw(chart) {
    const { ctx, scales: { x, y } } = chart;
    ctx.save();
    ctx.strokeStyle = '#8a8a8a';
    ctx.lineWidth = 1.3;
    chart.data.datasets.forEach(ds => {
      ds.errors.forEach((e, i) => {
        if (!e) return;
        const v = ds.data[i].y;
        const px = x.getPixelForValue(i);
        const top = y.getPixelForValue(v + e), bot = y.getPixelForValue(v - e);
        ctx.beginPath();
        ctx.moveTo(px, top); ctx.lineTo(px, bot);
        ctx.moveTo(px - 3, top); ctx.lineTo(px + 3, top);
        ctx.moveTo(px - 3, bot); ctx.lineTo(px + 3, bot);
        ctx.stroke();
      });
    });
    ctx.restore();
  }
};

function fmtTick(v) {
  return String(v).replace(/^(-?)0\./, '$1.');
}

function makePanel(title, ticks, series, errors, left, titleY) {
  const cv = document.createElement('canvas');
  cv.width = CW; cv.height = CH;
  cv.style.position = 'absolute';
  cv.style.left = left + 'px';
  cv.style.top = (titleY + 5) + 'px';
  document.body.appendChild(cv);

  let lo = Math.min(...ticks), hi = Math.max(...ticks);
  series.forEach((s, k) => s.forEach((v, i) => {
    lo = Math.min(lo, v - errors[k][i]);
    hi = Math.max(hi, v + errors[k][i]);
  }));
  const pad = (hi - lo) * 0.1;

  const chart = new Chart(cv, {
    type: 'line',
    data: {
      datasets: years.map((yr, k) => ({
        label: yr,
        data: series[k].map((v, i) => ({ x: i, y: v })),
        errors: errors[k],
        borderColor: colors[k],
        backgroundColor: colors[k],
        borderWidth: 1.8,
        pointRadius: 3.6,
        pointBorderWidth: 0,
        tension: 0,
        order: 3 - k
      }))
    },
    options: {
      responsive: false,
      animation: false,
      devicePixelRatio: 1,
      events: [],
      layout: { padding: { top: 8, right: 2, bottom: 2, left: 0 } },
      plugins: { legend: { display: false }, tooltip: { enabled: false } },
      scales: {
        x: {
          type: 'linear', min: -0.95, max: 19.95,
          afterBuildTicks: ax => { ax.ticks = shownAgeTicks.map(v => ({ value: v })); },
          ticks: { callback: v => ageGroups[v], color: '#9a9a9a', font: { size: 9, lineHeight: 1 }, padding: 5, maxRotation: 0, autoSkip: false },
          grid: { drawOnChartArea: false, tickLength: 6, color: '#c4c4c4', lineWidth: 1 },
          border: { display: false },
          title: { display: true, text: 'Age group', color: '#000', font: { size: 8.7, weight: 'bold', lineHeight: 1 }, padding: { top: -3, bottom: 1 } }
        },
        y: {
          min: lo - pad, max: hi + pad,
          afterBuildTicks: ax => { ax.ticks = ticks.map(v => ({ value: v })); },
          ticks: { callback: fmtTick, color: '#9a9a9a', font: { size: 12 }, padding: 3 },
          grid: { drawOnChartArea: false, tickLength: 5, color: '#c4c4c4', lineWidth: 1 },
          border: { display: false },
          title: { display: true, text: 'Monetary value (in 1000s)', color: '#000', font: { size: 8.7, weight: 'bold' }, padding: { top: 1.8, bottom: 4.6 } }
        }
      }
    },
    plugins: [errorBars]
  });

  const t = document.createElement('div');
  t.className = 'abs ptitle';
  t.style.left = (left + chart.chartArea.left + 1.5) + 'px';
  t.style.top = (titleY - 7) + 'px';
  t.textContent = title;
  document.body.appendChild(t);
}

function makeSection(titles, ticks, series, errors, rows) {
  titles.forEach((title, p) => {
    makePanel(title, ticks[p], series[p], errors[p], colLeft[p % 4], rows[Math.floor(p / 4)]);
  });
}

function makeLegend(centerY) {
  const lineLeft = [497, 632, 766];
  const textLeft = [562, 697, 831];
  years.forEach((yr, k) => {
    const ln = document.createElement('div');
    ln.className = 'legend-line';
    ln.style.left = lineLeft[k] + 'px';
    ln.style.top = (centerY - 1) + 'px';
    ln.style.background = colors[k];
    document.body.appendChild(ln);
    const dot = document.createElement('div');
    dot.className = 'legend-dot';
    dot.style.left = (lineLeft[k] + 17) + 'px';
    dot.style.top = (centerY - 6) + 'px';
    dot.style.background = colors[k];
    document.body.appendChild(dot);
    const tx = document.createElement('div');
    tx.className = 'legend-text';
    tx.style.left = textLeft[k] + 'px';
    tx.style.top = (centerY - 10) + 'px';
    tx.textContent = yr;
    document.body.appendChild(tx);
  });
}

function fitWidth(el, target) {
  const base = parseFloat(getComputedStyle(el).fontSize);
  const w = el.getBoundingClientRect().width;
  el.style.fontSize = (base * target / w) + 'px';
}

makeSection(femaleTitles, femaleTicks, femaleSeries, femaleErrors, femaleRows);
makeSection(maleTitles, maleTicks, maleSeries, maleErrors, maleRows);
makeLegend(830);
makeLegend(1667);

fitWidth(document.getElementById('title'), 836);

const noteCenters = [1736, 1760, 1783];
const noteWidths = [1416, 1416, 1062];
notesLines.forEach((line, i) => {
  const d = document.createElement('div');
  d.className = 'abs note';
  d.style.top = (noteCenters[i] - 12) + 'px';
  d.textContent = line;
  document.body.appendChild(d);
  fitWidth(d, noteWidths[i]);
});
</script>
</body>
</html>
